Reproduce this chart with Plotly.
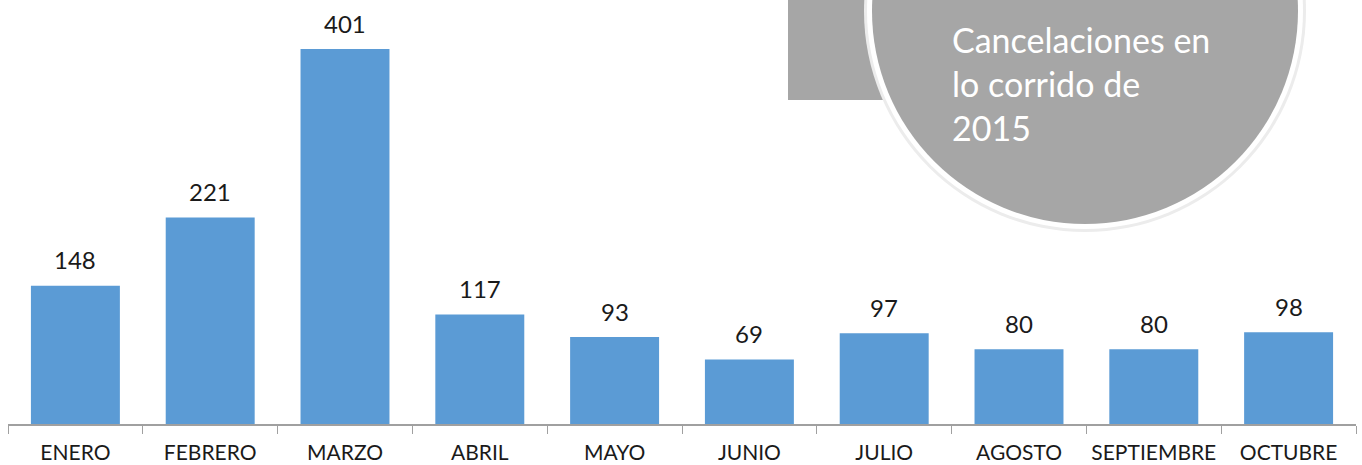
import plotly.graph_objects as go

months = ["ENERO", "FEBRERO", "MARZO", "ABRIL", "MAYO", "JUNIO", "JULIO",
          "AGOSTO", "SEPTIEMBRE", "OCTUBRE"]
cancelaciones = [148, 221, 401, 117, 93, 69, 97, 80, 80, 98]
callout_lines = ["Cancelaciones en", "lo corrido de", "2015"]

W, H = 1362, 465
ML, MR, MT, MB = 8, 6, 0, 41
PW, PH = W - ML - MR, H - MT - MB
FONT = "Lato, 'Noto Sans', sans-serif"

def px(x):
    return (x - ML) / PW

def py(y):
    return (PH + MT - y) / PH

fig = go.Figure()
fig.add_trace(go.Bar(
    x=months, y=cancelaciones,
    marker=dict(color="#5b9bd5", line=dict(width=0)),
    width=0.66,
    hoverinfo="x+y",
))

for m, v in zip(months, cancelaciones):
    fig.add_annotation(x=m, y=v, text=str(v), showarrow=False,
                       xref="x", yref="y", yanchor="middle", yshift=26,
                       font=dict(family=FONT, size=24, color="#1a1a1a"))

gray = "#a6a6a6"
cx, cy, r = 1085, 11, 217
shapes = [
    dict(type="rect", xref="paper", yref="paper",
         x0=px(788), x1=px(960), y0=py(100), y1=py(-5),
         fillcolor=gray, line=dict(width=0), layer="above"),
    dict(type="circle", xref="paper", yref="paper",
         x0=px(cx - r - 4), x1=px(cx + r + 4), y0=py(cy + r + 4), y1=py(cy - r - 4),
         fillcolor="#ececec", line=dict(width=0), layer="above"),
    dict(type="circle", xref="paper", yref="paper",
         x0=px(cx - r - 1), x1=px(cx + r + 1), y0=py(cy + r + 1), y1=py(cy - r - 1),
         fillcolor="#ffffff", line=dict(width=0), layer="above"),
    dict(type="circle", xref="paper", yref="paper",
         x0=px(cx - r + 4), x1=px(cx + r - 4), y0=py(cy + r - 4), y1=py(cy - r + 4),
         fillcolor=gray, line=dict(width=0), layer="above"),
]

for line, yc in zip(callout_lines, [40, 84, 127]):
    fig.add_annotation(xref="paper", yref="paper", x=px(950), y=py(yc),
                       xanchor="left", yanchor="middle", align="left", showarrow=False,
                       text=line,
                       font=dict(family=FONT, size=34, color="#ffffff"))

fig.update_layout(
    width=W, height=H,
    margin=dict(l=ML, r=MR, t=MT, b=MB),
    paper_bgcolor="#ffffff", plot_bgcolor="#ffffff",
    showlegend=False,
    shapes=shapes,
    bargap=0.34,
    xaxis=dict(
        type="category", showline=True, linecolor="#a0a0a0", linewidth=1.5,
        ticks="outside", tickson="boundaries", ticklen=8, tickcolor="#a0a0a0",
        ticklabelstandoff=9,
        tickfont=dict(family=FONT, size=21, color="#1a1a1a"),
        showgrid=False, zeroline=False, fixedrange=True,
    ),
    yaxis=dict(range=[0, 453.5], visible=False, showgrid=False, zeroline=False, fixedrange=True),
)

fig.write_html("out.html", config={"displayModeBar": False},
               post_script="document.body.style.margin='0';")
